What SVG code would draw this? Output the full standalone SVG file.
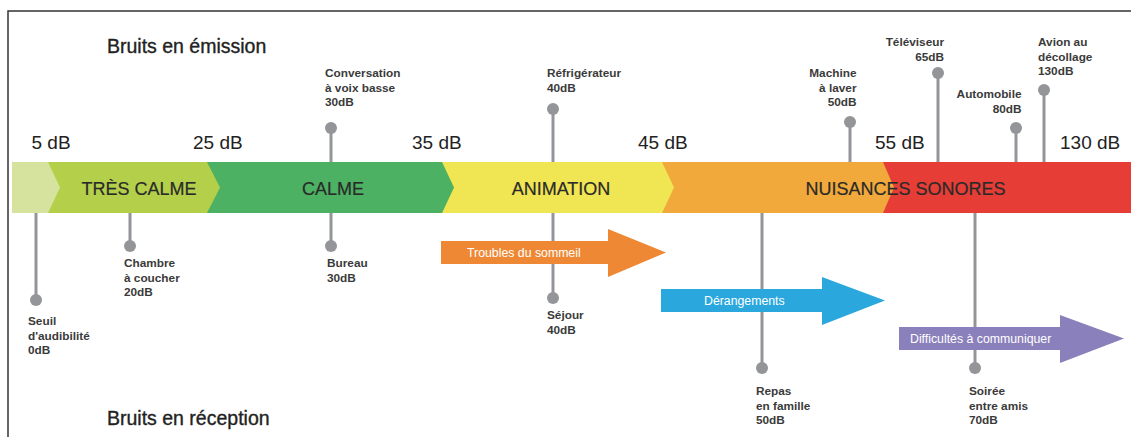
<svg xmlns="http://www.w3.org/2000/svg" width="1131" height="437" viewBox="0 0 1131 437">
<defs>
<style>
.frame{fill:none;stroke:#333;stroke-width:1.5}
.title{font-family:"Liberation Sans",Arial,sans-serif;font-size:19.5px;fill:#222;stroke:#222;stroke-width:0.35}
.db{font-family:"Liberation Sans",Arial,sans-serif;font-size:19px;fill:#222}
.band{font-family:"Liberation Sans",Arial,sans-serif;font-size:18px;fill:#2a2a2a;text-anchor:middle;stroke:#2a2a2a;stroke-width:0.2}
.lbl{font-family:"Liberation Sans",Arial,sans-serif;font-size:11.8px;font-weight:bold;fill:#3a3a3a}
.r{text-anchor:end}
.pl{stroke:#939598;stroke-width:3}
.pc{fill:#939598}
.at{font-family:"Liberation Sans",Arial,sans-serif;font-size:12.3px;fill:#fff}
</style>
</defs>
<rect width="1131" height="437" fill="#fff"/>
<path class="frame" d="M8,437 V11 H1131"/>

<text class="title" x="107" y="52.5">Bruits en émission</text>
<text class="title" x="107" y="425">Bruits en réception</text>

<g id="scale">
<text class="db" x="31.5" y="149">5 dB</text>
<text class="db" x="193" y="149">25 dB</text>
<text class="db" x="412" y="149">35 dB</text>
<text class="db" x="638" y="149">45 dB</text>
<text class="db" x="875" y="149">55 dB</text>
<text class="db" x="1060" y="149">130 dB</text>
</g>

<g id="band">
<rect x="883" y="162" width="248" height="51" fill="#e63d36"/>
<polygon points="662,162 883,162 894,187.5 883,213 662,213" fill="#f2a93b"/>
<polygon points="442,162 662,162 674,187.5 662,213 442,213" fill="#f0e553"/>
<polygon points="207,162 442,162 454,187.5 442,213 207,213" fill="#4cb162"/>
<polygon points="48,162 207,162 220,187.5 207,213 48,213" fill="#b4d04a"/>
<polygon points="12,162 48,162 60,187.5 48,213 12,213" fill="#d6e39e"/>
<text class="band" x="139" y="194.5">TRÈS CALME</text>
<text class="band" x="333" y="194.5">CALME</text>
<text class="band" x="561" y="194.5">ANIMATION</text>
<text class="band" x="905.5" y="194.5">NUISANCES SONORES</text>
</g>

<g id="connectors">
<line class="pl" x1="331" y1="128" x2="331" y2="162"/>
<line class="pl" x1="553" y1="109" x2="553" y2="162"/>
<line class="pl" x1="850" y1="122" x2="850" y2="162"/>
<line class="pl" x1="938" y1="73" x2="938" y2="162"/>
<line class="pl" x1="1016" y1="128" x2="1016" y2="162"/>
<line class="pl" x1="1044" y1="90" x2="1044" y2="162"/>
<line class="pl" x1="36" y1="213" x2="36" y2="300"/>
<line class="pl" x1="130" y1="213" x2="130" y2="246"/>
<line class="pl" x1="331" y1="213" x2="331" y2="246"/>
<line class="pl" x1="553" y1="213" x2="553" y2="298"/>
<line class="pl" x1="762" y1="213" x2="762" y2="368"/>
<line class="pl" x1="975" y1="213" x2="975" y2="368"/>
</g>

<g id="conversation">
<circle class="pc" cx="331" cy="128" r="6"/>
<text class="lbl" x="325" y="77">Conversation</text>
<text class="lbl" x="325" y="91.5">à voix basse</text>
<text class="lbl" x="325" y="106">30dB</text>
</g>
<g id="refrigerateur">
<circle class="pc" cx="553" cy="109" r="6"/>
<text class="lbl" x="547" y="77">Réfrigérateur</text>
<text class="lbl" x="547" y="91.5">40dB</text>
</g>
<g id="machine">
<circle class="pc" cx="850" cy="122" r="6"/>
<text class="lbl r" x="856.5" y="77">Machine</text>
<text class="lbl r" x="856.5" y="91.5">à laver</text>
<text class="lbl r" x="856.5" y="106">50dB</text>
</g>
<g id="televiseur">
<circle class="pc" cx="938" cy="73" r="6"/>
<text class="lbl r" x="944" y="46">Téléviseur</text>
<text class="lbl r" x="944" y="60.5">65dB</text>
</g>
<g id="automobile">
<circle class="pc" cx="1016" cy="128" r="6"/>
<text class="lbl r" x="1021.5" y="98">Automobile</text>
<text class="lbl r" x="1021.5" y="112.5">80dB</text>
</g>
<g id="avion">
<circle class="pc" cx="1044" cy="90" r="6"/>
<text class="lbl" x="1038" y="46">Avion au</text>
<text class="lbl" x="1038" y="60.5">décollage</text>
<text class="lbl" x="1038" y="75">130dB</text>
</g>
<g id="seuil">
<circle class="pc" cx="36" cy="300" r="6"/>
<text class="lbl" x="28" y="325">Seuil</text>
<text class="lbl" x="28" y="339.5">d'audibilité</text>
<text class="lbl" x="28" y="354">0dB</text>
</g>
<g id="chambre">
<circle class="pc" cx="130" cy="246" r="6"/>
<text class="lbl" x="124" y="267">Chambre</text>
<text class="lbl" x="124" y="281.5">à coucher</text>
<text class="lbl" x="124" y="296">20dB</text>
</g>
<g id="bureau">
<circle class="pc" cx="331" cy="246" r="6"/>
<text class="lbl" x="327" y="267">Bureau</text>
<text class="lbl" x="327" y="281.5">30dB</text>
</g>
<g id="sejour">
<circle class="pc" cx="553" cy="298" r="6"/>
<text class="lbl" x="547" y="319">Séjour</text>
<text class="lbl" x="547" y="334">40dB</text>
</g>
<g id="repas">
<circle class="pc" cx="762" cy="368" r="6"/>
<text class="lbl" x="756" y="395">Repas</text>
<text class="lbl" x="756" y="409.5">en famille</text>
<text class="lbl" x="756" y="424">50dB</text>
</g>
<g id="soiree">
<circle class="pc" cx="975" cy="368" r="6"/>
<text class="lbl" x="969" y="395">Soirée</text>
<text class="lbl" x="969" y="409.5">entre amis</text>
<text class="lbl" x="969" y="424">70dB</text>
</g>

<g id="troubles">
<polygon points="441,241 608,241 608,229 666,252.5 608,277 608,264 441,264" fill="#ee8834"/>
<text class="at" x="467" y="256.5">Troubles du sommeil</text>
</g>
<g id="derangements">
<polygon points="661,289 822,289 822,277 885,300.5 822,325 822,312 661,312" fill="#2aa8de"/>
<text class="at" x="704" y="304.5">Dérangements</text>
</g>
<g id="difficultes">
<polygon points="899,327 1060,327 1060,315 1124,338.5 1060,363 1060,350 899,350" fill="#8a80bb"/>
<text class="at" x="910" y="342.5">Difficultés à communiquer</text>
</g>
</svg>
